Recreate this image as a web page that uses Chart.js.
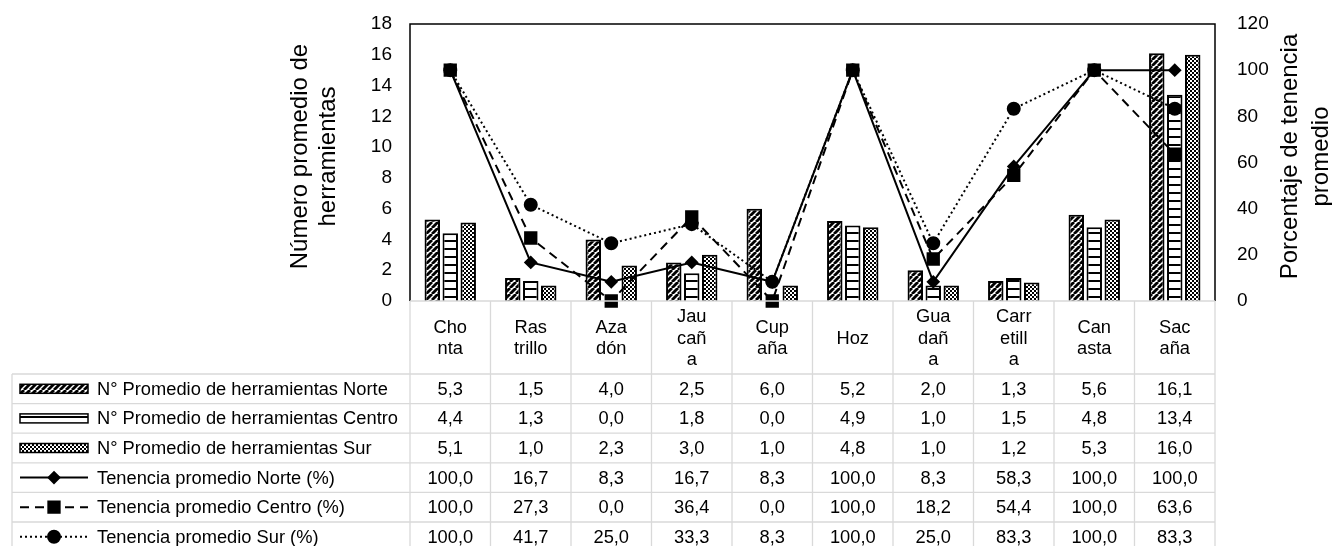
<!DOCTYPE html>
<html>
<head>
<meta charset="utf-8">
<script src="https://cdn.jsdelivr.net/npm/chart.js@4/dist/chart.umd.min.js"></script>
<style>
  body { margin: 0; background: #fff; }
</style>
</head>
<body>
<canvas id="chart" width="1332" height="546"></canvas>
<script>
const categories = [["Cho", "nta"], ["Ras", "trillo"], ["Aza", "dón"], ["Jau", "cañ", "a"], ["Cup", "aña"],
  ["Hoz"], ["Gua", "dañ", "a"], ["Carr", "etill", "a"], ["Can", "asta"], ["Sac", "aña"]];
const herrNorte = [5.3, 1.5, 4.0, 2.5, 6.0, 5.2, 2.0, 1.3, 5.6, 16.1];
const herrCentro = [4.4, 1.3, 0.0, 1.8, 0.0, 4.9, 1.0, 1.5, 4.8, 13.4];
const herrSur = [5.1, 1.0, 2.3, 3.0, 1.0, 4.8, 1.0, 1.2, 5.3, 16.0];
const tenNorte = [100.0, 16.7, 8.3, 16.7, 8.3, 100.0, 8.3, 58.3, 100.0, 100.0];
const tenCentro = [100.0, 27.3, 0.0, 36.4, 0.0, 100.0, 18.2, 54.4, 100.0, 63.6];
const tenSur = [100.0, 41.7, 25.0, 33.3, 8.3, 100.0, 25.0, 83.3, 100.0, 83.3];
const leftTitle = ["Número promedio de", "herramientas"];
const rightTitle = ["Porcentaje de tenencia", "promedio"];

const FONT = "Liberation Sans, Arial, sans-serif";

// fill patterns for the bars
function makePattern(size, draw) {
  const c = document.createElement("canvas");
  c.width = c.height = size;
  const g = c.getContext("2d");
  g.fillStyle = "#fff";
  g.fillRect(0, 0, size, size);
  g.fillStyle = "#000";
  g.strokeStyle = "#000";
  draw(g, size);
  return c.getContext("2d").createPattern(c, "repeat");
}
const diagPattern = makePattern(6, (g, s) => {
  g.lineWidth = 2.8;
  for (const o of [-s, 0, s]) {
    g.beginPath(); g.moveTo(o, s); g.lineTo(o + s, 0); g.stroke();
  }
});
const horizPattern = makePattern(8, (g, s) => { g.fillRect(0, 0, s, 2); });
const checkPattern = makePattern(4, (g) => { g.fillRect(0, 0, 2, 2); g.fillRect(2, 2, 2, 2); g.fillRect(1, 1, 1, 1); });

const fmt = (v) => v.toFixed(1).replace(".", ",");

const tablePlugin = {
  id: "dataTable",
  beforeDatasetsDraw(chart) {
    const { ctx, chartArea: a } = chart;
    ctx.save();
    ctx.strokeStyle = "#000";
    ctx.lineWidth = 1.5;
    ctx.beginPath();
    ctx.moveTo(a.left, a.bottom); ctx.lineTo(a.left, a.top);
    ctx.lineTo(a.right, a.top); ctx.lineTo(a.right, a.bottom);
    ctx.stroke();
    ctx.restore();
  },
  afterDraw(chart) {
    const { ctx, chartArea: a } = chart;
    const x = chart.scales.x;
    const colW = (a.right - a.left) / categories.length;
    const tableLeft = 12;
    const headTop = a.bottom, headBottom = 374, rowH = 29.6;
    const nRows = chart.data.datasets.length;
    ctx.save();

    // grid of the table
    ctx.strokeStyle = "#d9d9d9";
    ctx.lineWidth = 1.3;
    ctx.beginPath();
    ctx.moveTo(a.left, headTop); ctx.lineTo(a.right, headTop);
    for (let r = 0; r <= nRows; r++) {
      const y = headBottom + r * rowH;
      ctx.moveTo(tableLeft, y); ctx.lineTo(a.right, y);
    }
    ctx.moveTo(tableLeft, headBottom); ctx.lineTo(tableLeft, 560);
    for (let i = 0; i <= categories.length; i++) {
      const cx = a.left + i * colW;
      ctx.moveTo(cx, headTop); ctx.lineTo(cx, 560);
    }
    ctx.stroke();

    ctx.fillStyle = "#000";
    ctx.font = "18.3px " + FONT;
    ctx.textAlign = "center";
    ctx.textBaseline = "middle";

    // header: category names
    categories.forEach((lines, i) => {
      const cx = x.getPixelForValue(i);
      const mid = (headTop + headBottom) / 2 + 1;
      lines.forEach((t, j) => {
        ctx.fillText(t, cx, mid + (j - (lines.length - 1) / 2) * 21.5);
      });
    });

    // rows: legend key, label, values
    chart.data.datasets.forEach((ds, r) => {
      const cy = headBottom + rowH * (r + 0.5);
      ctx.textAlign = "center";
      ds.data.forEach((v, i) => ctx.fillText(fmt(v), x.getPixelForValue(i), cy + 1));
      ctx.textAlign = "left";
      ctx.fillText(ds.label, 97, cy + 1);

      if (ds.type === "bar") {
        ctx.fillStyle = ds.backgroundColor;
        ctx.fillRect(20, cy - 4.5, 68, 9);
        ctx.strokeStyle = "#000";
        ctx.lineWidth = 1.5;
        ctx.strokeRect(20, cy - 4.5, 68, 9);
        ctx.fillStyle = "#000";
      } else {
        ctx.strokeStyle = "#000";
        ctx.lineWidth = 2;
        ctx.setLineDash(ds.borderDash || []);
        ctx.beginPath(); ctx.moveTo(20, cy); ctx.lineTo(88, cy); ctx.stroke();
        ctx.setLineDash([]);
        Chart.helpers.drawPoint(ctx, {
          pointStyle: ds.pointStyle, radius: ds.pointRadius, rotation: 0, borderWidth: 1
        }, 54, cy);
      }
    });

    // axis titles
    ctx.font = "24px " + FONT;
    ctx.textAlign = "center";
    const midY = (a.top + a.bottom) / 2 - 6;
    [[300, leftTitle[0]], [328, leftTitle[1]], [1290, rightTitle[0]], [1321, rightTitle[1]]].forEach(([tx, t]) => {
      ctx.save();
      ctx.translate(tx, midY);
      ctx.rotate(-Math.PI / 2);
      ctx.fillText(t, 0, 0);
      ctx.restore();
    });
    ctx.restore();
  }
};

const barStyle = { type: "bar", yAxisID: "y", borderColor: "#000", borderWidth: 2, order: 2,
  categoryPercentage: 0.67, barPercentage: 0.86 };
const lineStyle = { type: "line", yAxisID: "y1", borderColor: "#000", backgroundColor: "#000",
  pointBackgroundColor: "#000", pointBorderColor: "#000", borderWidth: 2, order: 1, clip: false, tension: 0 };

// keep the plot area where the reference has it
function fixAxis(width) {
  return (s) => {
    s.width = width;
    s.paddingTop = 0;
    s.paddingBottom = 0;
  };
}

new Chart(document.getElementById("chart").getContext("2d"), {
  data: {
    labels: categories,
    datasets: [
      { ...barStyle, label: "N° Promedio de herramientas Norte", data: herrNorte, backgroundColor: diagPattern },
      { ...barStyle, label: "N° Promedio de herramientas Centro", data: herrCentro, backgroundColor: horizPattern },
      { ...barStyle, label: "N° Promedio de herramientas Sur", data: herrSur, backgroundColor: checkPattern },
      { ...lineStyle, label: "Tenencia promedio Norte (%)", data: tenNorte, pointStyle: "rectRot", pointRadius: 5.5 },
      { ...lineStyle, label: "Tenencia promedio Centro (%)", data: tenCentro, pointStyle: "rect", pointRadius: 8,
        borderDash: [9, 6] },
      { ...lineStyle, label: "Tenencia promedio Sur (%)", data: tenSur, pointStyle: "circle", pointRadius: 6,
        borderDash: [2, 3] },
    ],
  },
  options: {
    responsive: false,
    animation: false,
    layout: { padding: { top: 24, bottom: 245, left: 0, right: 0 } },
    plugins: { legend: { display: false }, tooltip: { enabled: false } },
    scales: {
      x: { display: false },
      y: {
        position: "left", min: 0, max: 18,
        ticks: { stepSize: 2, padding: 18, color: "#000", font: { family: FONT, size: 19 } },
        grid: { display: false, drawTicks: false },
        border: { display: false },
        afterFit: fixAxis(410),
      },
      y1: {
        position: "right", min: 0, max: 120,
        ticks: { stepSize: 20, padding: 22, color: "#000", font: { family: FONT, size: 19 } },
        grid: { display: false, drawTicks: false },
        border: { display: false },
        afterFit: fixAxis(117),
      },
    },
  },
  plugins: [tablePlugin],
});
</script>
</body>
</html>
